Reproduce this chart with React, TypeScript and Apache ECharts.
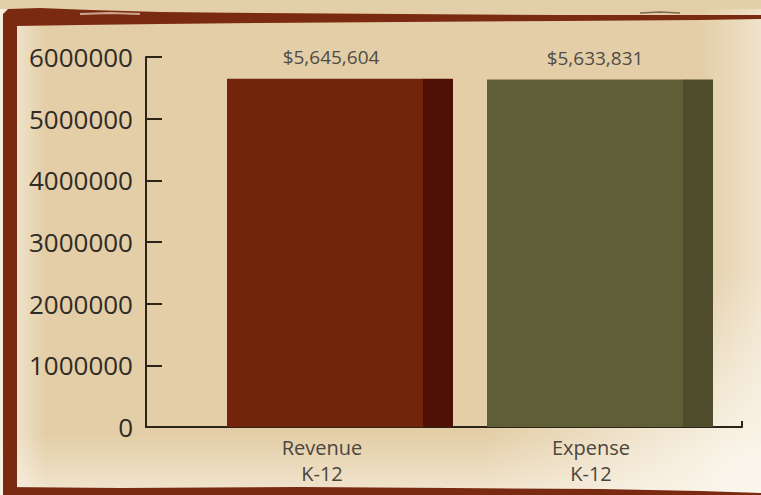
import React, { useEffect, useRef } from "react";
import * as echarts from "echarts";

const categories = ["Revenue\nK-12", "Expense\nK-12"];
const values = [5645604, 5633831];
const valueLabels = ["$5,645,604", "$5,633,831"];
const yMin = 0;
const yMax = 6000000;
const yInterval = 1000000;

const mainColors = ["#72250b", "#5f5e37"];
const darkColors = ["#4e0f04", "#4f4d2c"];

const W = 761;
const H = 495;

export default function App() {
  const ref = useRef<HTMLDivElement>(null);
  useEffect(() => {
    if (!ref.current) return;
    const chart = echarts.init(ref.current, undefined, { renderer: "svg", width: W, height: H });
    const axisColor = "#2c2418";
    const frame = "#7a2a10";
    const option: any = {
      animation: false,
      backgroundColor: "transparent",
      grid: [
        { left: 146, right: 19, top: 57, bottom: 68 },
        { left: 210, right: 31, top: 57, bottom: 68 },
      ],
      xAxis: [
        {
          type: "category",
          gridIndex: 0,
          data: categories,
          boundaryGap: true,
          axisLine: { show: true, lineStyle: { color: axisColor, width: 2 } },
          axisTick: { show: true, inside: true, length: 6, lineStyle: { color: axisColor, width: 2 } },
          axisLabel: { show: false },
          splitLine: { show: false },
        },
        {
          type: "category",
          gridIndex: 1,
          data: categories,
          axisLine: { show: false },
          axisTick: { show: false },
          splitLine: { show: false },
          axisLabel: {
            show: true,
            margin: 7,
            formatter: (v: string, i: number) => {
              const tag = i === 0 ? "a" : "b";
              return v
                .split("\n")
                .map((s) => `{${tag}|${s}}`)
                .join("\n");
            },
            rich: {
              a: {
                fontFamily: "Open Sans",
                fontSize: 20,
                color: "#4a4640",
                lineHeight: 26,
                padding: [0, 36, 0, 0],
              },
              b: {
                fontFamily: "Open Sans",
                fontSize: 20,
                color: "#4a4640",
                lineHeight: 26,
                padding: [0, 18, 0, 0],
              },
            },
          },
        },
      ],
      yAxis: [
        {
          type: "value",
          gridIndex: 0,
          min: yMin,
          max: yMax,
          interval: yInterval,
          axisLine: { show: true, lineStyle: { color: axisColor, width: 2 } },
          axisTick: { show: true, inside: true, length: 16, lineStyle: { color: axisColor, width: 2 } },
          splitLine: { show: false },
          axisLabel: {
            margin: 13,
            fontFamily: "Open Sans",
            fontSize: 26,
            color: "#2f2b26",
            formatter: (v: number) => String(v),
          },
        },
        {
          type: "value",
          gridIndex: 1,
          min: yMin,
          max: yMax,
          interval: yInterval,
          show: false,
        },
      ],
      series: [
        {
          type: "bar",
          xAxisIndex: 1,
          yAxisIndex: 1,
          barWidth: 226,
          data: values.map((v, i) => ({
            value: v,
            itemStyle: {
              color: new echarts.graphic.LinearGradient(0, 0, 1, 0, [
                { offset: 0, color: mainColors[i] },
                { offset: 0.867, color: mainColors[i] },
                { offset: 0.868, color: darkColors[i] },
                { offset: 1, color: darkColors[i] },
              ]),
            },
            label: {
              show: true,
              position: "top",
              distance: 12,
              offset: [i === 0 ? -9 : -5, 0],
              formatter: () => valueLabels[i],
              fontFamily: "Open Sans",
              fontSize: 19,
              color: "#4f4c46",
            },
          })),
        },
      ],
      graphic: [
        {
          type: "polygon",
          silent: true,
          z: 100,
          shape: {
            points: [
              [3, 14], [8, 9], [40, 8], [90, 10], [160, 12], [260, 13], [400, 14], [560, 15], [700, 15], [761, 15],
              [761, 19], [700, 20], [560, 21], [400, 22], [260, 23], [160, 24], [80, 25], [17, 26],
              [17, 495], [3, 495],
            ],
          },
          style: { fill: frame },
        },
        {
          type: "polygon",
          silent: true,
          z: 100,
          shape: {
            points: [
              [3, 487], [120, 488], [300, 487], [450, 488], [600, 489], [700, 491], [761, 493], [761, 495], [3, 495],
            ],
          },
          style: { fill: frame },
        },
        {
          type: "polyline",
          silent: true,
          z: 101,
          shape: { points: [[80, 14], [110, 13], [140, 14]] },
          style: { stroke: "rgba(240,220,200,0.7)", lineWidth: 2 },
        },
        {
          type: "polyline",
          silent: true,
          z: 101,
          shape: { points: [[640, 13], [660, 12], [680, 13]] },
          style: { stroke: "rgba(60,30,20,0.6)", lineWidth: 1.5 },
        },
      ],
    };
    chart.setOption(option);
    return () => chart.dispose();
  }, []);

  return (
    <div
      style={{
        position: "fixed",
        left: 0,
        top: 0,
        width: W,
        height: H,
        background:
          "linear-gradient(to right, rgba(250,244,232,0.85) 0px, rgba(250,244,232,0) 45px), " +
          "radial-gradient(ellipse 260px 200px at 740px 470px, rgba(252,248,240,0.9), rgba(252,248,240,0)), " +
          "linear-gradient(to top, rgba(248,240,226,0.7) 0px, rgba(248,240,226,0) 60px), " +
          "linear-gradient(to left, rgba(248,240,226,0.6) 0px, rgba(248,240,226,0) 60px), " +
          "#e3cea7",
      }}
    >
      <div style={{ position: "absolute", left: 0, top: 0, width: W, height: 9, background: "#e2d0ab" }} />
      <div ref={ref} style={{ position: "absolute", left: 0, top: 0, width: W, height: H }} />
    </div>
  );
}
